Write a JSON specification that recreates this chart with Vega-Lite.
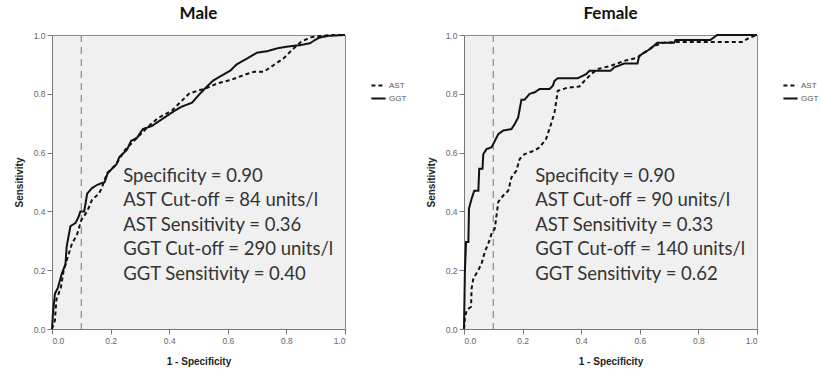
{
  "$schema": "https://vega.github.io/schema/vega-lite/v6.json",
  "padding": {"left": 13, "top": 4, "right": 5, "bottom": 5},
  "background": "white",
  "datasets": {
    "roc": [
      {"sex": "Male", "test": "GGT", "i": 0, "fpr": 0, "tpr": 0},
      {"sex": "Male", "test": "GGT", "i": 1, "fpr": 0.003, "tpr": 0.05},
      {"sex": "Male", "test": "GGT", "i": 2, "fpr": 0.01, "tpr": 0.12},
      {"sex": "Male", "test": "GGT", "i": 3, "fpr": 0.02, "tpr": 0.14},
      {"sex": "Male", "test": "GGT", "i": 4, "fpr": 0.034, "tpr": 0.19},
      {"sex": "Male", "test": "GGT", "i": 5, "fpr": 0.046, "tpr": 0.22},
      {"sex": "Male", "test": "GGT", "i": 6, "fpr": 0.05, "tpr": 0.28},
      {"sex": "Male", "test": "GGT", "i": 7, "fpr": 0.063, "tpr": 0.35},
      {"sex": "Male", "test": "GGT", "i": 8, "fpr": 0.08, "tpr": 0.36},
      {"sex": "Male", "test": "GGT", "i": 9, "fpr": 0.09, "tpr": 0.38},
      {"sex": "Male", "test": "GGT", "i": 10, "fpr": 0.097, "tpr": 0.40},
      {"sex": "Male", "test": "GGT", "i": 11, "fpr": 0.11, "tpr": 0.40},
      {"sex": "Male", "test": "GGT", "i": 12, "fpr": 0.12, "tpr": 0.46},
      {"sex": "Male", "test": "GGT", "i": 13, "fpr": 0.137, "tpr": 0.48},
      {"sex": "Male", "test": "GGT", "i": 14, "fpr": 0.154, "tpr": 0.49},
      {"sex": "Male", "test": "GGT", "i": 15, "fpr": 0.18, "tpr": 0.50},
      {"sex": "Male", "test": "GGT", "i": 16, "fpr": 0.19, "tpr": 0.53},
      {"sex": "Male", "test": "GGT", "i": 17, "fpr": 0.22, "tpr": 0.56},
      {"sex": "Male", "test": "GGT", "i": 18, "fpr": 0.23, "tpr": 0.585},
      {"sex": "Male", "test": "GGT", "i": 19, "fpr": 0.256, "tpr": 0.61},
      {"sex": "Male", "test": "GGT", "i": 20, "fpr": 0.27, "tpr": 0.64},
      {"sex": "Male", "test": "GGT", "i": 21, "fpr": 0.29, "tpr": 0.65},
      {"sex": "Male", "test": "GGT", "i": 22, "fpr": 0.31, "tpr": 0.68},
      {"sex": "Male", "test": "GGT", "i": 23, "fpr": 0.34, "tpr": 0.69},
      {"sex": "Male", "test": "GGT", "i": 24, "fpr": 0.37, "tpr": 0.71},
      {"sex": "Male", "test": "GGT", "i": 25, "fpr": 0.40, "tpr": 0.73},
      {"sex": "Male", "test": "GGT", "i": 26, "fpr": 0.415, "tpr": 0.74},
      {"sex": "Male", "test": "GGT", "i": 27, "fpr": 0.44, "tpr": 0.755},
      {"sex": "Male", "test": "GGT", "i": 28, "fpr": 0.478, "tpr": 0.77},
      {"sex": "Male", "test": "GGT", "i": 29, "fpr": 0.50, "tpr": 0.795},
      {"sex": "Male", "test": "GGT", "i": 30, "fpr": 0.524, "tpr": 0.82},
      {"sex": "Male", "test": "GGT", "i": 31, "fpr": 0.55, "tpr": 0.845},
      {"sex": "Male", "test": "GGT", "i": 32, "fpr": 0.575, "tpr": 0.86},
      {"sex": "Male", "test": "GGT", "i": 33, "fpr": 0.61, "tpr": 0.88},
      {"sex": "Male", "test": "GGT", "i": 34, "fpr": 0.63, "tpr": 0.90},
      {"sex": "Male", "test": "GGT", "i": 35, "fpr": 0.666, "tpr": 0.92},
      {"sex": "Male", "test": "GGT", "i": 36, "fpr": 0.70, "tpr": 0.94},
      {"sex": "Male", "test": "GGT", "i": 37, "fpr": 0.735, "tpr": 0.945},
      {"sex": "Male", "test": "GGT", "i": 38, "fpr": 0.77, "tpr": 0.955},
      {"sex": "Male", "test": "GGT", "i": 39, "fpr": 0.80, "tpr": 0.96},
      {"sex": "Male", "test": "GGT", "i": 40, "fpr": 0.85, "tpr": 0.966},
      {"sex": "Male", "test": "GGT", "i": 41, "fpr": 0.88, "tpr": 0.972},
      {"sex": "Male", "test": "GGT", "i": 42, "fpr": 0.91, "tpr": 0.99},
      {"sex": "Male", "test": "GGT", "i": 43, "fpr": 0.94, "tpr": 0.997},
      {"sex": "Male", "test": "GGT", "i": 44, "fpr": 1, "tpr": 1},
      {"sex": "Male", "test": "AST", "i": 0, "fpr": 0, "tpr": 0},
      {"sex": "Male", "test": "AST", "i": 1, "fpr": 0.01, "tpr": 0.03},
      {"sex": "Male", "test": "AST", "i": 2, "fpr": 0.015, "tpr": 0.10},
      {"sex": "Male", "test": "AST", "i": 3, "fpr": 0.03, "tpr": 0.14},
      {"sex": "Male", "test": "AST", "i": 4, "fpr": 0.04, "tpr": 0.20},
      {"sex": "Male", "test": "AST", "i": 5, "fpr": 0.057, "tpr": 0.255},
      {"sex": "Male", "test": "AST", "i": 6, "fpr": 0.068, "tpr": 0.29},
      {"sex": "Male", "test": "AST", "i": 7, "fpr": 0.085, "tpr": 0.32},
      {"sex": "Male", "test": "AST", "i": 8, "fpr": 0.10, "tpr": 0.37},
      {"sex": "Male", "test": "AST", "i": 9, "fpr": 0.12, "tpr": 0.40},
      {"sex": "Male", "test": "AST", "i": 10, "fpr": 0.137, "tpr": 0.44},
      {"sex": "Male", "test": "AST", "i": 11, "fpr": 0.16, "tpr": 0.46},
      {"sex": "Male", "test": "AST", "i": 12, "fpr": 0.17, "tpr": 0.48},
      {"sex": "Male", "test": "AST", "i": 13, "fpr": 0.188, "tpr": 0.53},
      {"sex": "Male", "test": "AST", "i": 14, "fpr": 0.216, "tpr": 0.557},
      {"sex": "Male", "test": "AST", "i": 15, "fpr": 0.25, "tpr": 0.61},
      {"sex": "Male", "test": "AST", "i": 16, "fpr": 0.28, "tpr": 0.64},
      {"sex": "Male", "test": "AST", "i": 17, "fpr": 0.30, "tpr": 0.66},
      {"sex": "Male", "test": "AST", "i": 18, "fpr": 0.33, "tpr": 0.69},
      {"sex": "Male", "test": "AST", "i": 19, "fpr": 0.36, "tpr": 0.716},
      {"sex": "Male", "test": "AST", "i": 20, "fpr": 0.38, "tpr": 0.727},
      {"sex": "Male", "test": "AST", "i": 21, "fpr": 0.41, "tpr": 0.744},
      {"sex": "Male", "test": "AST", "i": 22, "fpr": 0.44, "tpr": 0.773},
      {"sex": "Male", "test": "AST", "i": 23, "fpr": 0.467, "tpr": 0.80},
      {"sex": "Male", "test": "AST", "i": 24, "fpr": 0.495, "tpr": 0.81},
      {"sex": "Male", "test": "AST", "i": 25, "fpr": 0.524, "tpr": 0.818},
      {"sex": "Male", "test": "AST", "i": 26, "fpr": 0.564, "tpr": 0.835},
      {"sex": "Male", "test": "AST", "i": 27, "fpr": 0.61, "tpr": 0.847},
      {"sex": "Male", "test": "AST", "i": 28, "fpr": 0.655, "tpr": 0.864},
      {"sex": "Male", "test": "AST", "i": 29, "fpr": 0.69, "tpr": 0.875},
      {"sex": "Male", "test": "AST", "i": 30, "fpr": 0.723, "tpr": 0.875},
      {"sex": "Male", "test": "AST", "i": 31, "fpr": 0.757, "tpr": 0.898},
      {"sex": "Male", "test": "AST", "i": 32, "fpr": 0.79, "tpr": 0.92},
      {"sex": "Male", "test": "AST", "i": 33, "fpr": 0.82, "tpr": 0.95},
      {"sex": "Male", "test": "AST", "i": 34, "fpr": 0.85, "tpr": 0.977},
      {"sex": "Male", "test": "AST", "i": 35, "fpr": 0.883, "tpr": 0.992},
      {"sex": "Male", "test": "AST", "i": 36, "fpr": 0.917, "tpr": 0.997},
      {"sex": "Male", "test": "AST", "i": 37, "fpr": 0.96, "tpr": 1},
      {"sex": "Male", "test": "AST", "i": 38, "fpr": 1, "tpr": 1},
      {"sex": "Female", "test": "GGT", "i": 0, "fpr": 0, "tpr": 0},
      {"sex": "Female", "test": "GGT", "i": 1, "fpr": 0.003, "tpr": 0.194},
      {"sex": "Female", "test": "GGT", "i": 2, "fpr": 0.007, "tpr": 0.296},
      {"sex": "Female", "test": "GGT", "i": 3, "fpr": 0.015, "tpr": 0.296},
      {"sex": "Female", "test": "GGT", "i": 4, "fpr": 0.017, "tpr": 0.41},
      {"sex": "Female", "test": "GGT", "i": 5, "fpr": 0.026, "tpr": 0.443},
      {"sex": "Female", "test": "GGT", "i": 6, "fpr": 0.035, "tpr": 0.47},
      {"sex": "Female", "test": "GGT", "i": 7, "fpr": 0.049, "tpr": 0.47},
      {"sex": "Female", "test": "GGT", "i": 8, "fpr": 0.052, "tpr": 0.545},
      {"sex": "Female", "test": "GGT", "i": 9, "fpr": 0.063, "tpr": 0.545},
      {"sex": "Female", "test": "GGT", "i": 10, "fpr": 0.066, "tpr": 0.595},
      {"sex": "Female", "test": "GGT", "i": 11, "fpr": 0.077, "tpr": 0.612},
      {"sex": "Female", "test": "GGT", "i": 12, "fpr": 0.094, "tpr": 0.618},
      {"sex": "Female", "test": "GGT", "i": 13, "fpr": 0.103, "tpr": 0.635},
      {"sex": "Female", "test": "GGT", "i": 14, "fpr": 0.117, "tpr": 0.663},
      {"sex": "Female", "test": "GGT", "i": 15, "fpr": 0.134, "tpr": 0.675},
      {"sex": "Female", "test": "GGT", "i": 16, "fpr": 0.162, "tpr": 0.68},
      {"sex": "Female", "test": "GGT", "i": 17, "fpr": 0.173, "tpr": 0.697},
      {"sex": "Female", "test": "GGT", "i": 18, "fpr": 0.185, "tpr": 0.72},
      {"sex": "Female", "test": "GGT", "i": 19, "fpr": 0.196, "tpr": 0.78},
      {"sex": "Female", "test": "GGT", "i": 20, "fpr": 0.207, "tpr": 0.78},
      {"sex": "Female", "test": "GGT", "i": 21, "fpr": 0.224, "tpr": 0.80},
      {"sex": "Female", "test": "GGT", "i": 22, "fpr": 0.241, "tpr": 0.805},
      {"sex": "Female", "test": "GGT", "i": 23, "fpr": 0.258, "tpr": 0.816},
      {"sex": "Female", "test": "GGT", "i": 24, "fpr": 0.292, "tpr": 0.816},
      {"sex": "Female", "test": "GGT", "i": 25, "fpr": 0.303, "tpr": 0.827},
      {"sex": "Female", "test": "GGT", "i": 26, "fpr": 0.309, "tpr": 0.844},
      {"sex": "Female", "test": "GGT", "i": 27, "fpr": 0.32, "tpr": 0.853},
      {"sex": "Female", "test": "GGT", "i": 28, "fpr": 0.388, "tpr": 0.853},
      {"sex": "Female", "test": "GGT", "i": 29, "fpr": 0.417, "tpr": 0.867},
      {"sex": "Female", "test": "GGT", "i": 30, "fpr": 0.428, "tpr": 0.878},
      {"sex": "Female", "test": "GGT", "i": 31, "fpr": 0.50, "tpr": 0.878},
      {"sex": "Female", "test": "GGT", "i": 32, "fpr": 0.513, "tpr": 0.89},
      {"sex": "Female", "test": "GGT", "i": 33, "fpr": 0.547, "tpr": 0.903},
      {"sex": "Female", "test": "GGT", "i": 34, "fpr": 0.592, "tpr": 0.903},
      {"sex": "Female", "test": "GGT", "i": 35, "fpr": 0.598, "tpr": 0.929},
      {"sex": "Female", "test": "GGT", "i": 36, "fpr": 0.615, "tpr": 0.94},
      {"sex": "Female", "test": "GGT", "i": 37, "fpr": 0.638, "tpr": 0.954},
      {"sex": "Female", "test": "GGT", "i": 38, "fpr": 0.66, "tpr": 0.974},
      {"sex": "Female", "test": "GGT", "i": 39, "fpr": 0.717, "tpr": 0.974},
      {"sex": "Female", "test": "GGT", "i": 40, "fpr": 0.722, "tpr": 0.983},
      {"sex": "Female", "test": "GGT", "i": 41, "fpr": 0.841, "tpr": 0.983},
      {"sex": "Female", "test": "GGT", "i": 42, "fpr": 0.864, "tpr": 1},
      {"sex": "Female", "test": "GGT", "i": 43, "fpr": 1, "tpr": 1},
      {"sex": "Female", "test": "AST", "i": 0, "fpr": 0, "tpr": 0},
      {"sex": "Female", "test": "AST", "i": 1, "fpr": 0.003, "tpr": 0.036},
      {"sex": "Female", "test": "AST", "i": 2, "fpr": 0.009, "tpr": 0.064},
      {"sex": "Female", "test": "AST", "i": 3, "fpr": 0.024, "tpr": 0.076},
      {"sex": "Female", "test": "AST", "i": 4, "fpr": 0.026, "tpr": 0.138},
      {"sex": "Female", "test": "AST", "i": 5, "fpr": 0.032, "tpr": 0.172},
      {"sex": "Female", "test": "AST", "i": 6, "fpr": 0.049, "tpr": 0.20},
      {"sex": "Female", "test": "AST", "i": 7, "fpr": 0.06, "tpr": 0.223},
      {"sex": "Female", "test": "AST", "i": 8, "fpr": 0.071, "tpr": 0.262},
      {"sex": "Female", "test": "AST", "i": 9, "fpr": 0.085, "tpr": 0.296},
      {"sex": "Female", "test": "AST", "i": 10, "fpr": 0.094, "tpr": 0.324},
      {"sex": "Female", "test": "AST", "i": 11, "fpr": 0.105, "tpr": 0.341},
      {"sex": "Female", "test": "AST", "i": 12, "fpr": 0.117, "tpr": 0.432},
      {"sex": "Female", "test": "AST", "i": 13, "fpr": 0.134, "tpr": 0.454},
      {"sex": "Female", "test": "AST", "i": 14, "fpr": 0.151, "tpr": 0.47},
      {"sex": "Female", "test": "AST", "i": 15, "fpr": 0.162, "tpr": 0.516},
      {"sex": "Female", "test": "AST", "i": 16, "fpr": 0.179, "tpr": 0.539},
      {"sex": "Female", "test": "AST", "i": 17, "fpr": 0.19, "tpr": 0.578},
      {"sex": "Female", "test": "AST", "i": 18, "fpr": 0.207, "tpr": 0.595},
      {"sex": "Female", "test": "AST", "i": 19, "fpr": 0.241, "tpr": 0.607},
      {"sex": "Female", "test": "AST", "i": 20, "fpr": 0.258, "tpr": 0.618},
      {"sex": "Female", "test": "AST", "i": 21, "fpr": 0.28, "tpr": 0.646},
      {"sex": "Female", "test": "AST", "i": 22, "fpr": 0.297, "tpr": 0.697},
      {"sex": "Female", "test": "AST", "i": 23, "fpr": 0.309, "tpr": 0.737},
      {"sex": "Female", "test": "AST", "i": 24, "fpr": 0.32, "tpr": 0.81},
      {"sex": "Female", "test": "AST", "i": 25, "fpr": 0.354, "tpr": 0.821},
      {"sex": "Female", "test": "AST", "i": 26, "fpr": 0.394, "tpr": 0.825},
      {"sex": "Female", "test": "AST", "i": 27, "fpr": 0.411, "tpr": 0.844},
      {"sex": "Female", "test": "AST", "i": 28, "fpr": 0.434, "tpr": 0.867},
      {"sex": "Female", "test": "AST", "i": 29, "fpr": 0.456, "tpr": 0.884},
      {"sex": "Female", "test": "AST", "i": 30, "fpr": 0.50, "tpr": 0.895},
      {"sex": "Female", "test": "AST", "i": 31, "fpr": 0.547, "tpr": 0.912},
      {"sex": "Female", "test": "AST", "i": 32, "fpr": 0.592, "tpr": 0.923},
      {"sex": "Female", "test": "AST", "i": 33, "fpr": 0.615, "tpr": 0.94},
      {"sex": "Female", "test": "AST", "i": 34, "fpr": 0.649, "tpr": 0.963},
      {"sex": "Female", "test": "AST", "i": 35, "fpr": 0.683, "tpr": 0.974},
      {"sex": "Female", "test": "AST", "i": 36, "fpr": 0.728, "tpr": 0.976},
      {"sex": "Female", "test": "AST", "i": 37, "fpr": 0.949, "tpr": 0.976},
      {"sex": "Female", "test": "AST", "i": 38, "fpr": 0.972, "tpr": 0.99},
      {"sex": "Female", "test": "AST", "i": 39, "fpr": 1, "tpr": 1}
    ],
    "notes": [
      {"sex": "Male", "fpr": 0.1, "tpr": 0.522, "lines": ["Specificity = 0.90", "AST Cut-off = 84 units/l", "AST Sensitivity = 0.36", "GGT Cut-off = 290 units/l", "GGT Sensitivity = 0.40"]},
      {"sex": "Female", "fpr": 0.1, "tpr": 0.522, "lines": ["Specificity = 0.90", "AST Cut-off = 90 units/l", "AST Sensitivity = 0.33", "GGT Cut-off = 140 units/l", "GGT Sensitivity = 0.62"]}
    ]
  },
  "hconcat": [
    {
      "width": 293,
      "height": 294,
      "title": {"text": "Male"},
      "layer": [
        {
          "data": {"name": "notes"},
          "transform": [{"filter": "datum.sex === 'Male'"}],
          "mark": {"type": "rule", "color": "#8a8a8a", "strokeWidth": 1.2, "strokeDash": [7, 5]},
          "encoding": {"x": {"field": "fpr", "type": "quantitative"}}
        },
        {
          "data": {"name": "roc"},
          "transform": [{"filter": "datum.sex === 'Male'"}],
          "mark": {"type": "line", "color": "#111", "strokeWidth": 2},
          "encoding": {
            "x": {"field": "fpr", "type": "quantitative", "title": "1 - Specificity", "scale": {"domain": [0, 1], "nice": false}, "axis": {"values": [0, 0.2, 0.4, 0.6, 0.8, 1], "format": ".1f"}},
            "y": {"field": "tpr", "type": "quantitative", "title": "Sensitivity", "scale": {"domain": [0, 1], "nice": false}, "axis": {"values": [0, 0.2, 0.4, 0.6, 0.8, 1], "format": ".1f"}},
            "strokeDash": {"field": "test", "type": "nominal", "scale": {"domain": ["AST", "GGT"], "range": [[4, 3], [1, 0]]},
              "legend": {"title": null, "orient": "none", "legendX": 318, "legendY": 42}},
            "detail": {"field": "test"},
            "order": {"field": "i", "type": "quantitative"}
          }
        },
        {
          "data": {"name": "notes"},
          "transform": [{"filter": "datum.sex === 'Male'"}],
          "mark": {"type": "text", "align": "left", "baseline": "middle", "font": "Lato", "fontSize": 18.5, "color": "#333", "lineHeight": 24.6},
          "encoding": {"x": {"datum": 0.243, "type": "quantitative"}, "y": {"field": "tpr", "type": "quantitative"}, "text": {"field": "lines"}}
        }
      ]
    },
    {
      "width": 293,
      "height": 294,
      "title": {"text": "Female"},
      "layer": [
        {
          "data": {"name": "notes"},
          "transform": [{"filter": "datum.sex === 'Female'"}],
          "mark": {"type": "rule", "color": "#8a8a8a", "strokeWidth": 1.2, "strokeDash": [7, 5]},
          "encoding": {"x": {"field": "fpr", "type": "quantitative"}}
        },
        {
          "data": {"name": "roc"},
          "transform": [{"filter": "datum.sex === 'Female'"}],
          "mark": {"type": "line", "color": "#111", "strokeWidth": 2},
          "encoding": {
            "x": {"field": "fpr", "type": "quantitative", "title": "1 - Specificity", "scale": {"domain": [0, 1], "nice": false}, "axis": {"values": [0, 0.2, 0.4, 0.6, 0.8, 1], "format": ".1f"}},
            "y": {"field": "tpr", "type": "quantitative", "title": "Sensitivity", "scale": {"domain": [0, 1], "nice": false}, "axis": {"values": [0, 0.2, 0.4, 0.6, 0.8, 1], "format": ".1f"}},
            "strokeDash": {"field": "test", "type": "nominal", "scale": {"domain": ["AST", "GGT"], "range": [[4, 3], [1, 0]]},
              "legend": {"title": null, "orient": "none", "legendX": 318, "legendY": 42}},
            "detail": {"field": "test"},
            "order": {"field": "i", "type": "quantitative"}
          }
        },
        {
          "data": {"name": "notes"},
          "transform": [{"filter": "datum.sex === 'Female'"}],
          "mark": {"type": "text", "align": "left", "baseline": "middle", "font": "Lato", "fontSize": 18.5, "color": "#333", "lineHeight": 24.6},
          "encoding": {"x": {"datum": 0.243, "type": "quantitative"}, "y": {"field": "tpr", "type": "quantitative"}, "text": {"field": "lines"}}
        }
      ]
    }
  ],
  "spacing": 119,
  "bounds": "flush",
  "resolve": {"scale": {"strokeDash": "independent", "x": "independent", "y": "independent"}, "legend": {"strokeDash": "independent"}},
  "config": {
    "view": {"fill": "#f0f0f0", "stroke": "#8a8a8a", "strokeWidth": 1},
    "title": {"font": "Lato", "fontSize": 17, "fontWeight": "bold", "color": "#111", "offset": 8, "anchor": "middle"},
    "axis": {"grid": false, "labelFont": "Liberation Sans", "labelFontSize": 8.5, "labelColor": "#666", "tickColor": "#777", "tickSize": 5, "domainColor": "#777", "titleFont": "Liberation Sans", "titleFontSize": 10, "titleFontWeight": "bold", "titleColor": "#222", "labelPadding": 2},
    "axisX": {"titlePadding": 12},
    "axisY": {"titlePadding": 9},
    "legend": {"labelFont": "Liberation Sans", "labelFontSize": 8, "labelColor": "#555", "symbolType": "stroke", "symbolStrokeColor": "#111", "symbolStrokeWidth": 2, "symbolSize": 200, "rowPadding": -3, "labelOffset": 2}
  }
}
